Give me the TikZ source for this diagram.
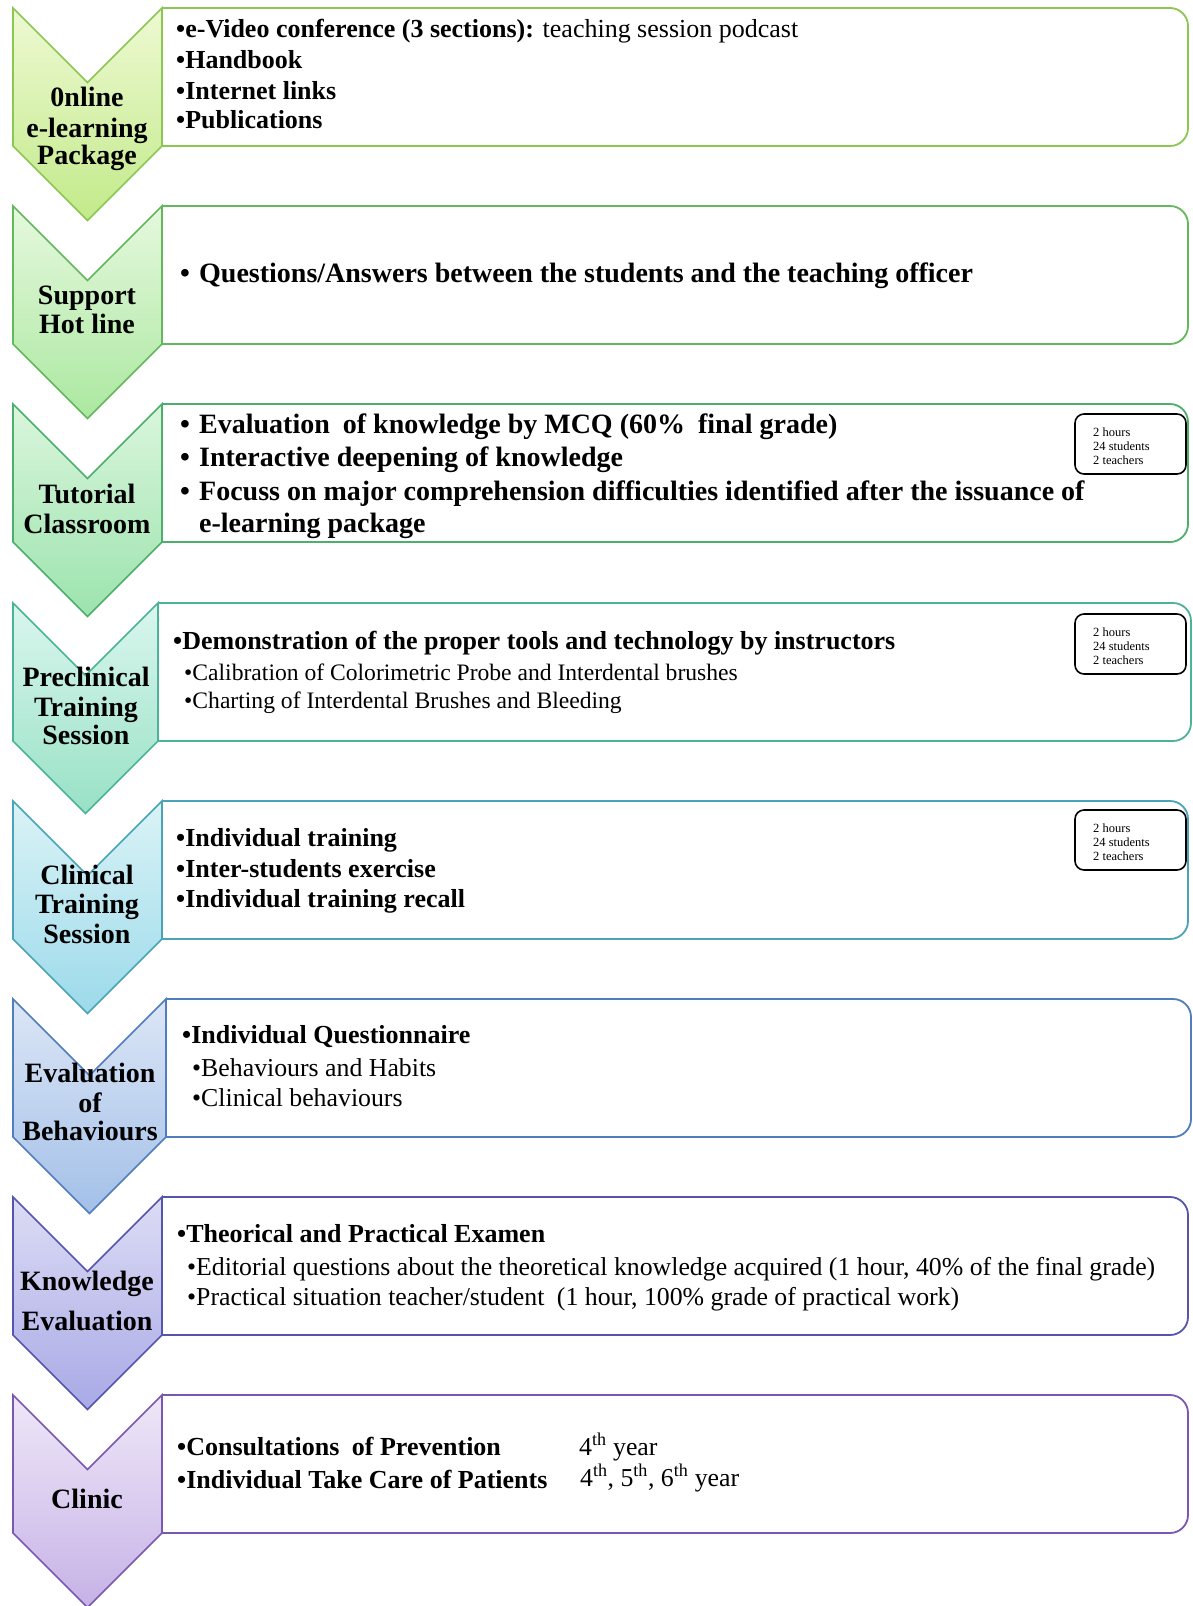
\documentclass[tikz,border=0pt]{standalone}
\usepackage{fontspec}
\setmainfont{Liberation Serif}
\definecolor{c1t}{HTML}{EEF9D2}\definecolor{c1b}{HTML}{C2EA8A}\definecolor{c1l}{HTML}{8CC653}
\definecolor{c2t}{HTML}{E6F8DE}\definecolor{c2b}{HTML}{ABE8A0}\definecolor{c2l}{HTML}{62B85A}
\definecolor{c3t}{HTML}{DAF6DC}\definecolor{c3b}{HTML}{9CE3AE}\definecolor{c3l}{HTML}{4CAF6C}
\definecolor{c4t}{HTML}{DAF6EE}\definecolor{c4b}{HTML}{98E1C6}\definecolor{c4l}{HTML}{4DB396}
\definecolor{c5t}{HTML}{DAF3F6}\definecolor{c5b}{HTML}{9CDAEA}\definecolor{c5l}{HTML}{4AA3B6}
\definecolor{c6t}{HTML}{DCE6F6}\definecolor{c6b}{HTML}{A3C0E8}\definecolor{c6l}{HTML}{4F7DBE}
\definecolor{c7t}{HTML}{DCDCF5}\definecolor{c7b}{HTML}{A9A9E6}\definecolor{c7l}{HTML}{5555AE}
\definecolor{c8t}{HTML}{EFE7F8}\definecolor{c8b}{HTML}{C6B2E6}\definecolor{c8l}{HTML}{7A58B2}
% chevron: #1 top, #2 right x, #3 colour prefix
\newcommand\mychev[3]{%
  \pgfmathsetmacro\cxm{(13+#2)/2}%
  \pgfmathsetmacro\dep{(#2-13)/2}%
  \draw[line width=1.6pt, draw=#3l, top color=#3t, bottom color=#3b, line join=miter]
    (13,#1) -- (\cxm,#1+\dep) -- (#2,#1) -- (#2,#1+138) -- (\cxm,#1+138+\dep) -- (13,#1+138) -- cycle;}
% box: #1 top, #2 left, #3 right, #4 colour
\newcommand\mybox[4]{%
  \draw[line width=1.8pt, draw=#4, rounded corners=18pt] (#2,#1) -- (#3,#1) -- (#3,#1+138) -- (#2,#1+138);
  \draw[line width=1.8pt, draw=#4] (#2,#1+138) -- (#2,#1);}
\newcommand\myinfo[2]{%
  \draw[line width=1.6pt, rounded corners=9pt] (1075,#1) rectangle (1186,#1+60);
  \node[info] (#2a) at (1093,#1+22) {2 hours};
  \node[info] (#2b) at (1093,#1+36) {24 students};
  \node[info] (#2c) at (1093,#1+50) {2 teachers};}
\begin{document}
\begin{tikzpicture}[x=1pt,y=-1pt,
  lab/.style={anchor=base, inner sep=0pt, font=\fontsize{28}{30}\selectfont\bfseries},
  bt/.style={anchor=base west, inner sep=0pt, font=\fontsize{26}{30}\selectfont\bfseries},
  bb/.style={anchor=base west, inner sep=0pt, font=\fontsize{28}{30}\selectfont\bfseries},
  st/.style={anchor=base west, inner sep=0pt, font=\fontsize{25.8}{28}\selectfont},
  ss/.style={anchor=base west, inner sep=0pt, font=\fontsize{23.6}{26}\selectfont},
  info/.style={anchor=base west, inner sep=0pt, font=\fontsize{12.5}{14}\selectfont}]
\useasboundingbox (0,0) rectangle (1192,1606);
\fill[white] (0,0) rectangle (1192,1606);
% boxes
\mybox{8}{162}{1188}{c1l}
\mybox{206}{162}{1188}{c2l}
\mybox{404}{162}{1188}{c3l}
\mybox{603}{158}{1191}{c4l}
\mybox{801}{162}{1188}{c5l}
\mybox{999}{166}{1191}{c6l}
\mybox{1197}{162}{1188}{c7l}
\mybox{1395}{162}{1188}{c8l}
% chevrons
\mychev{8}{162}{c1}
\mychev{206}{162}{c2}
\mychev{404}{162}{c3}
\mychev{603}{158}{c4}
\mychev{801}{162}{c5}
\mychev{999}{166}{c6}
\mychev{1197}{162}{c7}
\mychev{1395}{162}{c8}
% labels
\node[lab] (l1a) at (87,106) {0nline};
\node[lab] (l1b) at (87,137) {e-learning};
\node[lab] (l1c) at (87,164) {Package};
\node[lab] (l2a) at (87,304) {Support};
\node[lab] (l2b) at (87,333) {Hot line};
\node[lab] (l3a) at (87,503) {Tutorial};
\node[lab] (l3b) at (87,533) {Classroom};
\node[lab] (l4a) at (86,686) {Preclinical};
\node[lab] (l4b) at (86,716) {Training};
\node[lab] (l4c) at (86,744) {Session};
\node[lab] (l5a) at (87,884) {Clinical};
\node[lab] (l5b) at (87,913) {Training};
\node[lab] (l5c) at (87,943) {Session};
\node[lab] (l6a) at (90,1082) {Evaluation};
\node[lab] (l6b) at (90,1112) {of};
\node[lab] (l6c) at (90,1140) {Behaviours};
\node[lab] (l7a) at (87,1290) {Knowledge};
\node[lab] (l7b) at (87,1330) {Evaluation};
\node[lab] (l8a) at (87,1508) {Clinic};
% box 1
\node[bt] (t1a) at (176,37) {•e-Video conference (3 sections):\mdseries{} teaching session podcast};
\node[bt] (t1b) at (176,68) {•Handbook};
\node[bt] (t1c) at (176,99) {•Internet links};
\node[bt] (t1d) at (176,128) {•Publications};
% box 2
\node[bb] (t2a) at (180,282) {\makebox[19pt][l]{•}Questions/Answers between the students and the teaching officer};
% box 3
\node[bb] (t3a) at (180,433) {\makebox[19pt][l]{•}Evaluation\hspace{6pt} of knowledge by MCQ (60\%\hspace{6pt} final grade)};
\node[bb] (t3b) at (180,466) {\makebox[19pt][l]{•}Interactive deepening of knowledge};
\node[bb] (t3c) at (180,500) {\makebox[19pt][l]{•}Focuss on major comprehension difficulties identified after the issuance of};
\node[bb] (t3d) at (199,532) {e-learning package};
\myinfo{414}{i3}
% box 4
\node[bt] (t4a) at (173,649) {•Demonstration of the proper tools and technology by instructors};
\node[ss] (t4b) at (184,680) {•Calibration of Colorimetric Probe and Interdental brushes};
\node[ss] (t4c) at (184,708) {•Charting of Interdental Brushes and Bleeding};
\myinfo{614}{i4}
% box 5
\node[bt] (t5a) at (176,846) {•Individual training};
\node[bt] (t5b) at (176,877) {•Inter-students exercise};
\node[bt] (t5c) at (176,907) {•Individual training recall};
\myinfo{810}{i5}
% box 6
\node[bt] (t6a) at (182,1043) {•Individual Questionnaire};
\node[st] (t6b) at (192,1076) {•Behaviours and Habits};
\node[st] (t6c) at (192,1106) {•Clinical behaviours};
% box 7
\node[bt] (t7a) at (177,1242) {•Theorical and Practical Examen};
\node[st] (t7b) at (187,1275) {•Editorial questions about the theoretical knowledge acquired (1 hour, 40\% of the final grade)};
\node[st] (t7c) at (187,1305) {•Practical situation teacher/student\hspace{6pt} (1 hour, 100\% grade of practical work)};
% box 8
\node[bt] (t8a) at (177,1455) {•Consultations\hspace{6pt} of Prevention};
\node[bt] (t8b) at (177,1488) {•Individual Take Care of Patients};
\node[st] (t8c) at (579,1455) {4\textsuperscript{th} year};
\node[st] (t8d) at (580,1486) {4\textsuperscript{th}, 5\textsuperscript{th}, 6\textsuperscript{th} year};
\end{tikzpicture}
\end{document}
